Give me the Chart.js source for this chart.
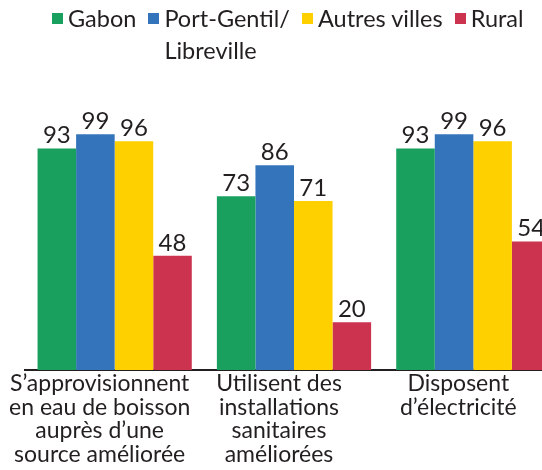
<!DOCTYPE html>
<html>
<head>
<meta charset="utf-8">
<script src="https://cdn.jsdelivr.net/npm/chart.js@4.4.1/dist/chart.umd.min.js"></script>
<style>
  html, body { margin: 0; padding: 0; width: 542px; height: 470px; overflow: hidden; background: #fff; }
  #wrap { position: relative; width: 563px; height: 470px; }
  #legend { position: absolute; left: 52px; top: 2px; display: flex; align-items: flex-start; gap: 12px;
            font-family: Lato, sans-serif; font-size: 23.5px; color: #231f20; line-height: 32px; }
  .item { display: flex; align-items: flex-start; }
  .sw { width: 11px; height: 11px; margin-top: 11px; margin-right: 5px; flex: none; }
  .lbl { white-space: pre-line; }
</style>
</head>
<body>
<div id="wrap">
  <canvas id="c" width="563" height="470" style="width:563px;height:470px"></canvas>
  <div id="legend"></div>
</div>
<script>
const categories = [
  ['S’approvisionnent', 'en eau de boisson', 'auprès d’une', 'source améliorée'],
  ['Utilisent des', 'installations', 'sanitaires', 'améliorées'],
  ['Disposent', 'd’électricité']
];
const seriesNames = ['Gabon', 'Port-Gentil/\nLibreville', 'Autres villes', 'Rural'];
const gabon = [93, 73, 93];
const portGentilLibreville = [99, 86, 99];
const autresVilles = [96, 71, 96];
const rural = [48, 20, 54];
const colors = ['#19a05f', '#3474bb', '#fed000', '#cc334f'];

const seriesValues = [gabon, portGentilLibreville, autresVilles, rural];

const legend = document.getElementById('legend');
seriesNames.forEach((n, i) => {
  const it = document.createElement('div'); it.className = 'item';
  const sw = document.createElement('div'); sw.className = 'sw'; sw.style.background = colors[i];
  const lb = document.createElement('div'); lb.className = 'lbl'; lb.textContent = n;
  it.appendChild(sw); it.appendChild(lb); legend.appendChild(it);
});

const valueLabels = {
  id: 'valueLabels',
  afterDatasetsDraw(chart) {
    const ctx = chart.ctx;
    ctx.save();
    ctx.font = '24px Lato, sans-serif';
    ctx.fillStyle = '#231f20';
    ctx.textAlign = 'center';
    ctx.textBaseline = 'alphabetic';
    chart.data.datasets.forEach((ds, di) => {
      chart.getDatasetMeta(di).data.forEach((bar, i) => {
        ctx.fillText(String(ds.data[i]), bar.x, bar.y - 5);
      });
    });
    ctx.restore();
  }
};

new Chart(document.getElementById('c'), {
  type: 'bar',
  data: {
    labels: categories,
    datasets: seriesValues.map((v, i) => ({
      label: seriesNames[i],
      data: v,
      backgroundColor: colors[i],
      borderWidth: 0,
      barPercentage: 1,
      categoryPercentage: 0.86
    }))
  },
  options: {
    responsive: false,
    animation: false,
    layout: { padding: { left: 25, right: 0, top: 108, bottom: 0 } },
    plugins: { legend: { display: false }, tooltip: { enabled: false } },
    scales: {
      x: {
        grid: { display: false, drawTicks: false },
        border: { display: true, color: '#231f20', width: 2 },
        ticks: {
          color: '#231f20',
          font: { family: 'Lato, sans-serif', size: 23, lineHeight: 1.02 },
          padding: 2,
          labelOffset: -15,
          maxRotation: 0,
          autoSkip: false
        },
        afterFit(scale) { scale.height = 100; }
      },
      y: { display: false, min: 0, max: 110 }
    }
  },
  plugins: [valueLabels]
});
</script>
</body>
</html>
